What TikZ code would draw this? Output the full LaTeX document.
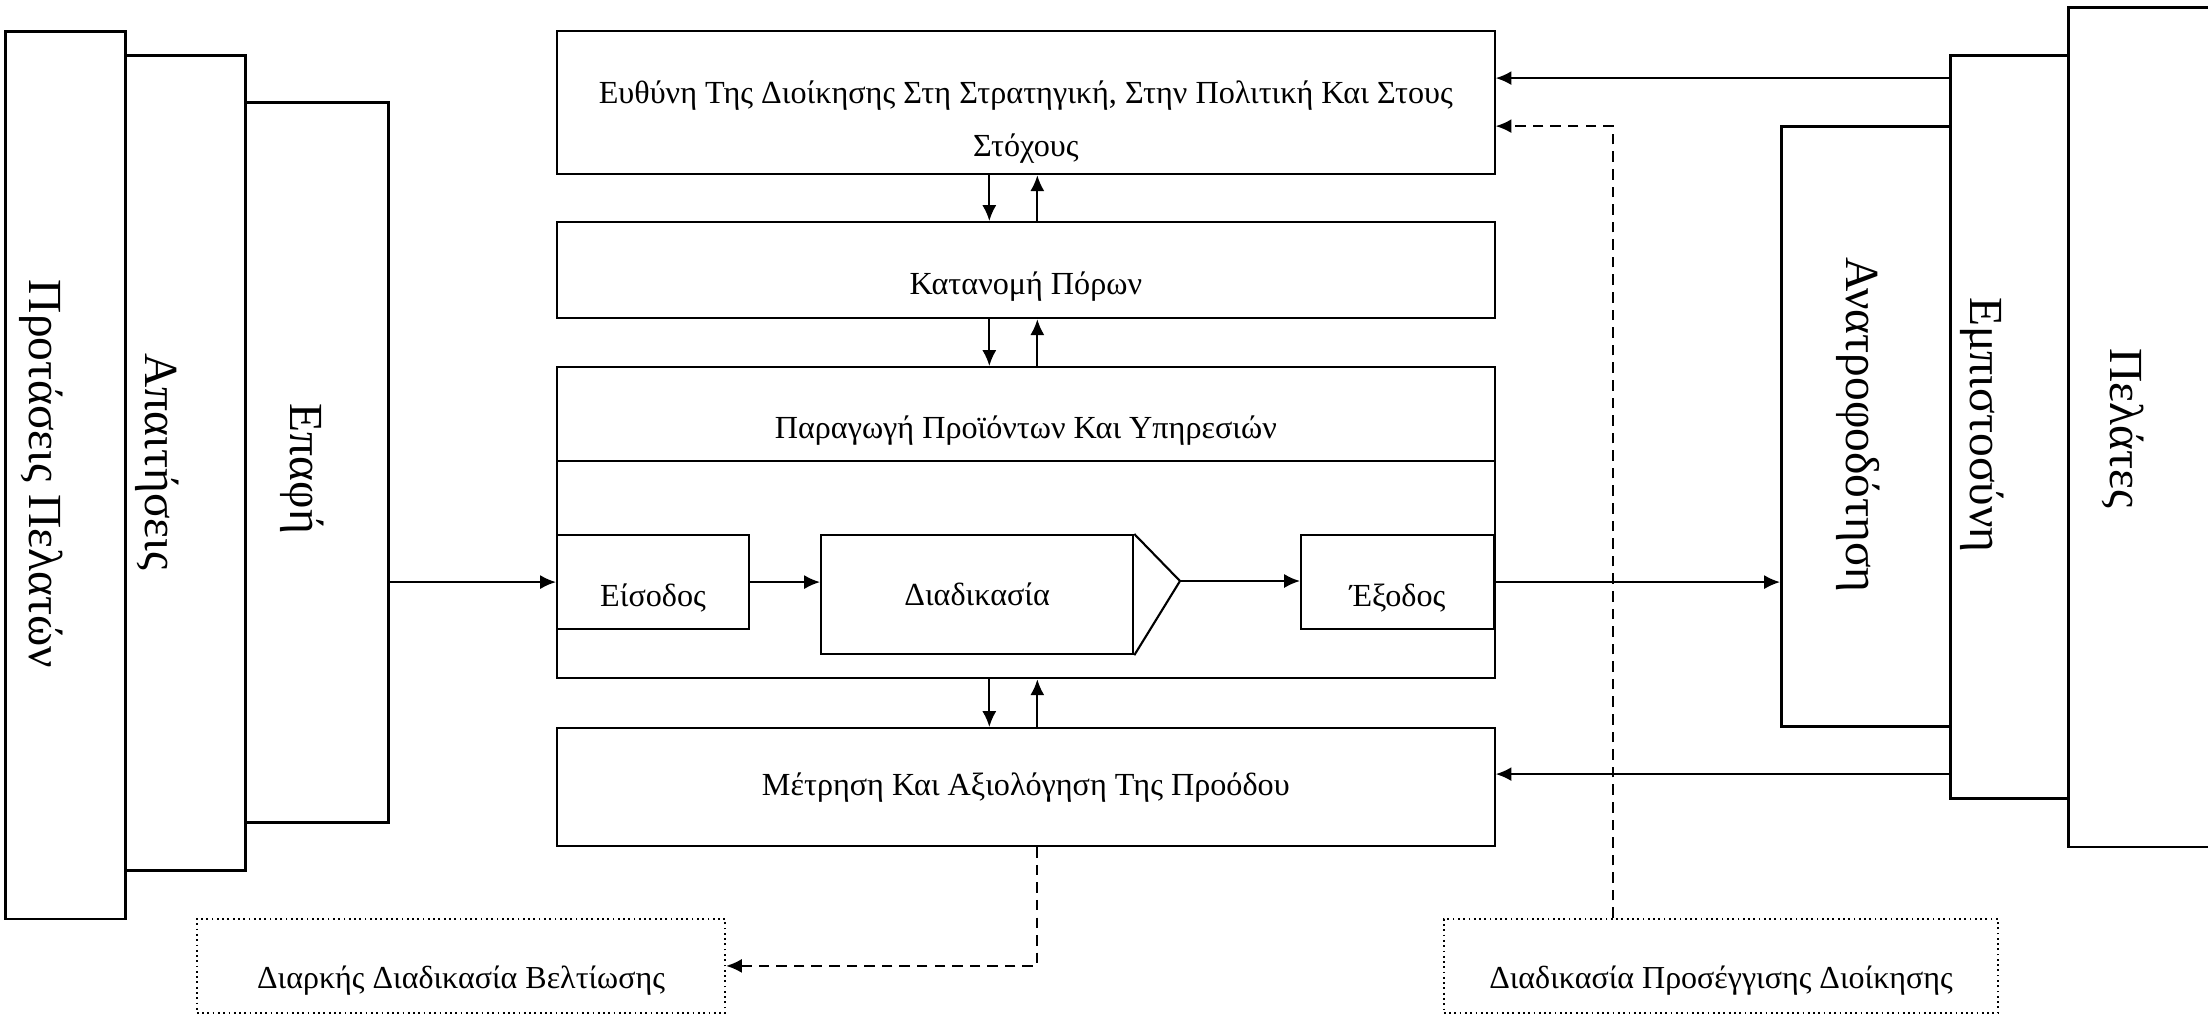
\documentclass[tikz,border=0pt]{standalone}
\usepackage{fontspec}
\setmainfont{Liberation Serif}
\usetikzlibrary{positioning,arrows.meta,calc}

\begin{document}
\begin{tikzpicture}[
  x=0.01cm, y=-0.01cm,
  box/.style={rectangle, draw, line width=0.6pt, inner sep=0pt, anchor=north west, align=center, font=\fontsize{9.15}{15}\selectfont},
  lowered/.style={text height=#1, text depth=2.4pt},
  sidebox/.style={rectangle, draw, line width=0.8pt, inner sep=0pt, anchor=north west},
  sidetext/.style={rotate=-90, inner sep=0pt, font=\fontsize{13.5}{16}\selectfont},
  notebox/.style={rectangle, draw, densely dotted, line width=0.5pt, inner sep=0pt, anchor=north west, font=\fontsize{9.1}{12}\selectfont},
  arrow/.style={-{Latex[length=4.5pt,width=4pt]}, line width=0.6pt},
  dasharrow/.style={arrow, dash pattern=on 3pt off 2pt}
]
  \useasboundingbox (0,0) rectangle (2208,1014);

  % Customer side (left)
  \node[sidebox, minimum width=1.20cm, minimum height=8.87cm] (proposals) at (4,30) {};
  \node[sidebox, minimum width=1.20cm, minimum height=8.15cm] (demands) at (124,54) {};
  \node[sidebox, minimum width=1.43cm, minimum height=7.20cm] (contact) at (244,101) {};
  \node[sidetext] (proposalstext) at (41,474) {Προτάσεις Πελατών};
  \node[sidetext] (demandstext) at (157,462) {Απαιτήσεις};
  \node[sidetext] (contacttext) at (302,469) {Επαφή};

  % Customer side (right)
  \node[sidebox, minimum width=1.69cm, minimum height=6.00cm] (feedback) at (1780,125) {};
  \node[sidebox, minimum width=1.18cm, minimum height=7.43cm] (trust) at (1949,54) {};
  \node[sidebox, minimum width=2.00cm, minimum height=8.39cm] (clients) at (2067,6) {};
  \node[sidetext] (feedbacktext) at (1858,425) {Ανατροφοδότηση};
  \node[sidetext] (trusttext) at (1982,425) {Εμπιστοσύνη};
  \node[sidetext] (clientstext) at (2123,428) {Πελάτες};

  % Management blocks
  \node[box, lowered=33pt, minimum width=9.37cm, minimum height=1.43cm] (goal) at (556,30)
    {Ευθύνη Της Διοίκησης Στη Στρατηγική, Στην Πολιτική Και Στους\\Στόχους};
  \node[box, lowered=16.5pt, minimum width=9.37cm, minimum height=0.96cm] (res) at (556,221) {Κατανομή Πόρων};
  \node[box, minimum width=9.37cm, minimum height=3.11cm] (prod) at (556,366) {};
  \node[box, lowered=16.5pt, minimum width=9.37cm, minimum height=0.94cm] (prodhead) at (556,366)
    {Παραγωγή Προϊόντων Και Υπηρεσιών};
  \node[box, minimum width=9.37cm, minimum height=1.18cm] (meas) at (556,727)
    {Μέτρηση Και Αξιολόγηση Της Προόδου};

  % Process chain
  \node[box, lowered=16pt, minimum width=1.92cm, minimum height=0.94cm] (in) at (556,534) {Είσοδος};
  \node[box, minimum width=3.12cm, minimum height=1.19cm] (proc) at (820,534) {Διαδικασία};
  \node[box, lowered=16pt, minimum width=1.93cm, minimum height=0.94cm] (out) at (1300,534) {Έξοδος};
  \coordinate (tip) at (1180,581);
  \draw[line width=0.6pt] (proc.north east) -- (tip) -- (proc.south east);

  % Improvement notes
  \node[notebox, lowered=15pt, minimum width=5.28cm, minimum height=0.94cm] (improve) at (196,918)
    {Διαρκής Διαδικασία Βελτίωσης};
  \node[notebox, lowered=15pt, minimum width=5.54cm, minimum height=0.94cm] (approach) at (1443,918)
    {Διαδικασία Προσέγγισης Διοίκησης};

  % Arrows
  \draw[arrow] ([xshift=-0.365cm]goal.south) -- ([xshift=-0.365cm]res.north);
  \draw[arrow] ([xshift=0.115cm]res.north) -- ([xshift=0.115cm]goal.south);
  \draw[arrow] ([xshift=-0.365cm]res.south) -- ([xshift=-0.365cm]prod.north);
  \draw[arrow] ([xshift=0.115cm]prod.north) -- ([xshift=0.115cm]res.south);
  \draw[arrow] ([xshift=-0.365cm]prod.south) -- ([xshift=-0.365cm]meas.north);
  \draw[arrow] ([xshift=0.115cm]meas.north) -- ([xshift=0.115cm]prod.south);

  \draw[arrow] (contact.east |- in.west) -- (in.west);
  \draw[arrow] (in.east) -- (in.east -| proc.west);
  \draw[arrow] (tip) -- (tip -| out.west);
  \draw[arrow] (out.east) -- (feedback.west |- out.east);

  \coordinate (goalin) at ([yshift=0.245cm]goal.east);
  \coordinate (measin) at ([yshift=0.13cm]meas.east);
  \coordinate (goaldash) at ([yshift=-0.235cm]goal.east);
  \draw[arrow] (trust.west |- goalin) -- (goalin);
  \draw[arrow] (trust.west |- measin) -- (measin);

  \draw[dasharrow] ([xshift=0.115cm]meas.south) |- (improve.east);
  \draw[dasharrow] ([xshift=-1.08cm]approach.north) |- (goaldash);

\end{tikzpicture}
\end{document}
